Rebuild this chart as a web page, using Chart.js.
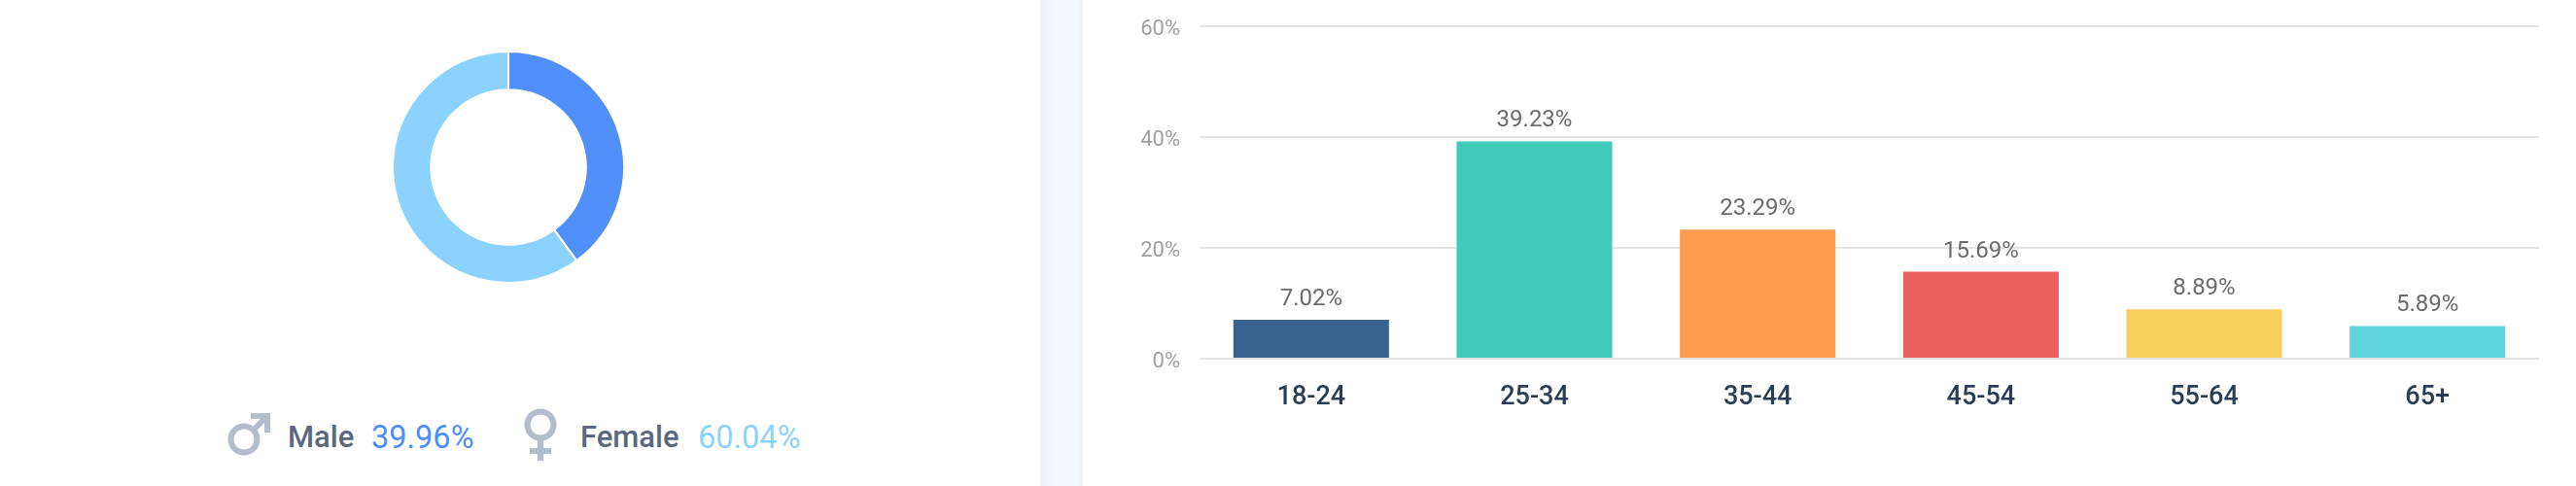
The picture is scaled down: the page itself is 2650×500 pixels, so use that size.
<!DOCTYPE html>
<html>
<head>
<meta charset="utf-8">
<style>
  html, body { margin: 0; padding: 0; background: #fff; }
  body { width: 2650px; height: 500px; position: relative; overflow: hidden; font-family: Roboto, sans-serif; }
  .band { position: absolute; left: 1070px; top: 0; width: 44px; height: 500px; background: linear-gradient(90deg, #ecf1f9, #f4f8fd 40%, #f4f8fd 90%, #edf2f9); }
  .chart-box { position: absolute; }
  #donutBox { left: 383px; top: 32px; width: 280px; height: 280px; }
  #barBox { left: 1120px; top: 0; width: 1530px; height: 500px; }
  .legend-text { position: absolute; top: 431px; font-size: 31px; line-height: 38px; white-space: nowrap; }
  .legend-name { color: #5c687d; font-weight: 500; }
  .legend-share { font-size: 32.5px; }
  .legend-icon { position: absolute; }
</style>
</head>
<body>
<div class="band"></div>
<div class="chart-box" id="donutBox"><canvas id="donut"></canvas></div>
<div class="chart-box" id="barBox"><canvas id="bars"></canvas></div>

<svg class="legend-icon" style="left:233px;top:424px" width="46" height="46" viewBox="0 0 46 46" fill="none" stroke="#b4bdcb" stroke-width="6">
  <circle cx="18" cy="28" r="13.5"/>
  <path d="M28 18 L42 4 M25 4 H42 V21"/>
</svg>
<svg class="legend-icon" style="left:538px;top:420px" width="36" height="56" viewBox="0 0 36 56" fill="none" stroke="#b4bdcb" stroke-width="6">
  <circle cx="18" cy="17" r="13.5"/>
  <path d="M18 31 V54 M7 44 H29"/>
</svg>
<div class="legend-text legend-name" style="left:296px" id="maleName"></div>
<div class="legend-text legend-share" style="left:382px;color:#4c8dff" id="maleShare"></div>
<div class="legend-text legend-name" style="left:597px" id="femaleName"></div>
<div class="legend-text legend-share" style="left:718px;color:#8dd2ff" id="femaleShare"></div>

<script src="https://cdn.jsdelivr.net/npm/chart.js@4/dist/chart.umd.min.js"></script>
<script>
const genderLabels = ['Male', 'Female'];
const genderValues = [39.96, 60.04];
const genderColors = ['#518ffd', '#8cd2ff'];

const ageLabels = ['18-24', '25-34', '35-44', '45-54', '55-64', '65+'];
const ageValues = [7.02, 39.23, 23.29, 15.69, 8.89, 5.89];
const ageColors = ['#3a648f', '#41c9b9', '#ff9b4a', '#ec5f5f', '#f8cf5a', '#60d6dc'];
const yTicks = [0, 20, 40, 60];

Chart.defaults.font.family = 'Roboto, sans-serif';
Chart.defaults.animation = false;

// Legend row
document.getElementById('maleName').textContent = genderLabels[0];
document.getElementById('femaleName').textContent = genderLabels[1];
document.getElementById('maleShare').textContent = genderValues[0].toFixed(2) + '%';
document.getElementById('femaleShare').textContent = genderValues[1].toFixed(2) + '%';

// Donut
new Chart(document.getElementById('donut'), {
  type: 'doughnut',
  data: {
    labels: genderLabels,
    datasets: [{data: genderValues, backgroundColor: genderColors, borderColor: '#fff', borderWidth: 2}],
  },
  options: {
    responsive: true,
    maintainAspectRatio: false,
    cutout: '67%',
    layout: {padding: 20},
    plugins: {legend: {display: false}, tooltip: {enabled: false}},
  },
});

// Value above each bar
const barValueLabels = {
  id: 'barValueLabels',
  afterDatasetsDraw(chart) {
    const ctx = chart.ctx;
    ctx.save();
    ctx.font = '24px Roboto, sans-serif';
    ctx.fillStyle = '#6b6b6b';
    ctx.textAlign = 'center';
    ctx.textBaseline = 'alphabetic';
    chart.getDatasetMeta(0).data.forEach((bar, i) => {
      ctx.fillText(ageValues[i].toFixed(2) + '%', bar.x, bar.y - 15);
    });
    ctx.restore();
  },
};

// Age bars
new Chart(document.getElementById('bars'), {
  type: 'bar',
  data: {
    labels: ageLabels,
    datasets: [{data: ageValues, backgroundColor: ageColors, barPercentage: 0.697, categoryPercentage: 1}],
  },
  options: {
    responsive: true,
    maintainAspectRatio: false,
    layout: {padding: {top: 27, right: 38, left: 0, bottom: 0}},
    plugins: {legend: {display: false}, tooltip: {enabled: false}},
    scales: {
      x: {
        grid: {display: false},
        border: {display: false},
        ticks: {color: '#2b3d55', font: {size: 27, weight: 500}, padding: 16, maxRotation: 0},
        afterFit(s) { s.height = 131; },
      },
      y: {
        min: 0,
        max: 60,
        afterBuildTicks(s) { s.ticks = yTicks.map(value => ({value})); },
        grid: {color: '#e4e4e4', lineWidth: 2, drawTicks: false},
        border: {display: false},
        // empty first line pushes the label a little under its gridline
        ticks: {color: '#a0a0a0', font: {size: 22, lineHeight: '7px'}, padding: 20, callback: v => ['', v + '%']},
        afterFit(s) { s.width = 114; s.paddingTop = 0; s.paddingBottom = 0; },
      },
    },
  },
  plugins: [barValueLabels],
});
</script>
</body>
</html>
